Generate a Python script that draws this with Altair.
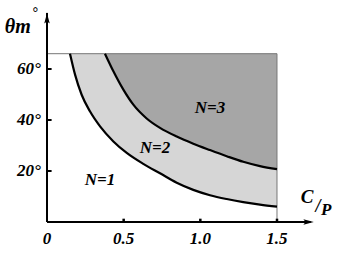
import altair as alt
import pandas as pd

# Boundary curves (C/P, theta_m in degrees)
c1_x = [0.150, 0.183, 0.226, 0.280, 0.346, 0.433, 0.520, 0.628, 0.737, 0.846, 0.954, 1.063, 1.172, 1.280, 1.389, 1.500]
c1_y = [66.0, 57.8, 49.9, 43.4, 37.5, 31.6, 27.1, 22.8, 19.1, 15.4, 12.6, 10.5, 9.0, 7.8, 6.8, 6.0]
c2_x = [0.378, 0.433, 0.498, 0.563, 0.650, 0.737, 0.846, 0.954, 1.063, 1.172, 1.280, 1.389, 1.500]
c2_y = [66.0, 59.1, 51.9, 46.0, 40.6, 36.9, 33.5, 30.7, 28.2, 25.8, 23.6, 21.9, 20.7]
theta_max = 66.0
x_max = 1.5

x_ticks = [0, 0.5, 1.0, 1.5]
x_tick_labels = ["0", "0.5", "1.0", "1.5"]
y_ticks = [20, 40, 60]
y_tick_labels = ["20°", "40°", "60°"]

region_labels = ["N=1", "N=2", "N=3"]
region_x = [0.346, 0.704, 1.063]
region_y = [16.5, 29.0, 44.7]

FONT = "Liberation Serif"
XD = [-0.3065, 1.95]
YD = [-12.16, 87.06]
xs = alt.Scale(domain=XD, nice=False, zero=False)
ys = alt.Scale(domain=YD, nice=False, zero=False)

def X(f="x"):
    return alt.X(f"{f}:Q", scale=xs, axis=None)
def Y(f="y"):
    return alt.Y(f"{f}:Q", scale=ys, axis=None)

c1 = pd.DataFrame({"x": c1_x, "y": c1_y, "top": theta_max})
c2 = pd.DataFrame({"x": c2_x, "y": c2_y, "top": theta_max})

area2 = alt.Chart(c1).mark_area(color="#d6d6d6", interpolate="monotone").encode(
    x=X(), y=Y(), y2="top:Q")
area3 = alt.Chart(c2).mark_area(color="#a6a6a6", interpolate="monotone").encode(
    x=X(), y=Y(), y2="top:Q")
line1 = alt.Chart(c1).mark_line(color="black", strokeWidth=2.2, interpolate="monotone").encode(
    x=X(), y=Y())
line2 = alt.Chart(c2).mark_line(color="black", strokeWidth=2.2, interpolate="monotone").encode(
    x=X(), y=Y())

frame = pd.DataFrame({"x": [0, x_max], "x2": [x_max, x_max], "y": [theta_max, 0], "y2": [theta_max, theta_max]})
frame_rules = alt.Chart(frame).mark_rule(color="#777777", strokeWidth=1).encode(
    x=X(), x2="x2:Q", y=Y(), y2="y2:Q")

axes = pd.DataFrame({"x": [0, 0], "x2": [0, 1.72], "y": [0, 0], "y2": [82.0, 0]})
axis_rules = alt.Chart(axes).mark_rule(color="black", strokeWidth=2).encode(
    x=X(), x2="x2:Q", y=Y(), y2="y2:Q")

arrow_path = "M0,-1 L-0.45,0.7 L0,0.35 L0.45,0.7 Z"
arr = pd.DataFrame({"x": [0, 1.70], "y": [79.5, 0], "a": [0, 90]})
arrows = alt.Chart(arr).mark_point(shape=arrow_path, filled=True, color="black", size=150, opacity=1).encode(
    x=X(), y=Y(), angle=alt.Angle("a:Q", scale=None))

yt = pd.DataFrame({"x": 0, "x2": 0.03, "y": y_ticks})
ytick_rules = alt.Chart(yt).mark_rule(color="black", strokeWidth=2).encode(x=X(), x2="x2:Q", y=Y())
xt = pd.DataFrame({"x": x_ticks[1:], "y": 0, "y2": 1.3})
xtick_rules = alt.Chart(xt).mark_rule(color="black", strokeWidth=2.5).encode(x=X(), y=Y(), y2="y2:Q")

txt = dict(font=FONT, fontStyle="italic", fontWeight="bold", color="black")

xl = pd.DataFrame({"x": x_ticks, "y": -6.8, "t": x_tick_labels})
xlabels = alt.Chart(xl).mark_text(fontSize=17, baseline="middle", align="center", **txt).encode(
    x=X(), y=Y(), text="t:N")
yl = pd.DataFrame({"x": -0.04, "y": y_ticks, "t": y_tick_labels})
ylabels = alt.Chart(yl).mark_text(fontSize=17, baseline="middle", align="right", **txt).encode(
    x=X(), y=Y(), text="t:N")

rl = pd.DataFrame({"x": region_x, "y": region_y, "t": region_labels})
rlabels = alt.Chart(rl).mark_text(fontSize=17, baseline="middle", align="center", **txt).encode(
    x=X(), y=Y(), text="t:N")

tl = pd.DataFrame({"x": [-0.275, -0.098], "y": [76.5, 82.0], "t": ["θm", "°"], "s": [20, 14]})
title_y = alt.Chart(tl).mark_text(baseline="middle", align="left", **txt).encode(
    x=X(), y=Y(), text="t:N", size=alt.Size("s:Q", scale=None))

cp = pd.DataFrame({"x": [1.696, 1.768, 1.820], "y": [9.8, 5.9, 4.7], "t": ["C", "/", "P"], "s": [19, 18, 17]})
title_x = alt.Chart(cp).mark_text(baseline="middle", align="center", **txt).encode(
    x=X(), y=Y(), text="t:N", size=alt.Size("s:Q", scale=None))

chart = alt.layer(
    area2, area3, frame_rules, line1, line2, axis_rules, arrows, ytick_rules, xtick_rules,
    xlabels, ylabels, rlabels, title_y, title_x
).properties(
    width=346, height=253, padding=0, autosize=alt.AutoSizeParams(type="none"),
    background="white"
).configure_view(stroke=None)

chart.save("out.html", embed_options={"renderer": "svg", "actions": False})
